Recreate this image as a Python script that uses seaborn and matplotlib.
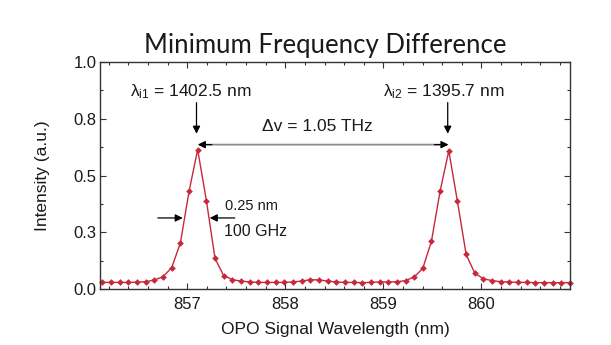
import matplotlib
matplotlib.use("Agg")
import matplotlib.pyplot as plt
import seaborn as sns
import pandas as pd
from matplotlib.ticker import MultipleLocator, FixedLocator

wavelength = [856.135, 856.223, 856.312, 856.400, 856.488, 856.577, 856.665, 856.753,
              856.841, 856.930, 857.018, 857.106, 857.195, 857.283, 857.371, 857.460,
              857.548, 857.636, 857.724, 857.813, 857.901, 857.989, 858.078, 858.166,
              858.254, 858.343, 858.431, 858.519, 858.607, 858.696, 858.784, 858.872,
              858.961, 859.049, 859.137, 859.226, 859.314, 859.402, 859.490, 859.579,
              859.667, 859.755, 859.844, 859.932, 860.020, 860.109, 860.197, 860.285,
              860.373, 860.462, 860.550, 860.638, 860.727, 860.815, 860.903]
intensity = [0.029, 0.029, 0.029, 0.029, 0.030, 0.032, 0.040, 0.054,
             0.094, 0.203, 0.430, 0.614, 0.389, 0.135, 0.059, 0.041,
             0.035, 0.031, 0.029, 0.029, 0.029, 0.029, 0.031, 0.035,
             0.041, 0.040, 0.035, 0.031, 0.029, 0.029, 0.028, 0.029,
             0.031, 0.031, 0.032, 0.037, 0.053, 0.091, 0.210, 0.433,
             0.609, 0.386, 0.152, 0.070, 0.045, 0.037, 0.032, 0.031,
             0.029, 0.029, 0.028, 0.028, 0.028, 0.028, 0.028]

x_ticks = [857, 858, 859, 860]
x_tick_labels = ["857", "858", "859", "860"]
y_ticks = [0.0, 0.25, 0.5, 0.75, 1.0]
y_tick_labels = ["0.0", "0.3", "0.5", "0.8", "1.0"]

title = "Minimum Frequency Difference"
x_label = "OPO Signal Wavelength (nm)"
y_label = "Intensity (a.u.)"

sns.set_theme(style="ticks")
plt.rcParams["font.family"] = ["Liberation Sans", "DejaVu Sans"]
plt.rcParams["mathtext.fontset"] = "custom"
plt.rcParams["mathtext.rm"] = "Liberation Sans"
plt.rcParams["mathtext.it"] = "Liberation Sans"

RED = "#c8283c"
INK = "#1a1a1a"

fig = plt.figure(figsize=(6.11, 3.45), dpi=100)
ax = fig.add_axes([100 / 611, 56 / 345, 470 / 611, 227 / 345])

df = pd.DataFrame({"wl": wavelength, "I": intensity})
sns.lineplot(data=df, x="wl", y="I", ax=ax, color=RED, lw=1.0, marker="D",
             markersize=3.4, markeredgewidth=0, clip_on=False)

ax.set_xlim(856.11, 860.903)
ax.set_ylim(0, 1.0)
ax.xaxis.set_major_locator(FixedLocator(x_ticks))
ax.set_xticklabels(x_tick_labels)
ax.xaxis.set_minor_locator(MultipleLocator(0.2))
ax.yaxis.set_major_locator(FixedLocator(y_ticks))
ax.set_yticklabels(y_tick_labels)
ax.yaxis.set_minor_locator(MultipleLocator(0.125))

for s in ax.spines.values():
    s.set_color("#333333")
    s.set_linewidth(1.0)
ax.tick_params(which="both", direction="in", top=True, right=True, colors="#333333",
               labelcolor=INK, width=0.8)
ax.tick_params(which="major", length=4, labelsize=12)
ax.tick_params(which="minor", length=2.5)
ax.tick_params(axis="x", pad=6)
ax.tick_params(axis="y", pad=2.5)

ax.set_xlabel(x_label, fontsize=12.5, color=INK, labelpad=7)
ax.set_ylabel(y_label, fontsize=12.5, color=INK, labelpad=17)

fig.text(325 / 611, (345 - 53) / 345, title, fontsize=18.5, family=["Lato", "DejaVu Sans"],
         ha="center", va="baseline", color=INK)

# peak labels
ax.text(857.04, 0.870, r"$\lambda_{\mathregular{i1}}$ = 1402.5 nm", fontsize=12.5,
        ha="center", va="center", color=INK)
ax.text(859.61, 0.870, r"$\lambda_{\mathregular{i2}}$ = 1395.7 nm", fontsize=12.5,
        ha="center", va="center", color=INK)
arrow = dict(arrowstyle="-|>", color="black", lw=0.9, mutation_scale=11, shrinkA=0, shrinkB=0)
ax.annotate("", xy=(857.094, 0.684), xytext=(857.094, 0.821), arrowprops=arrow)
ax.annotate("", xy=(859.656, 0.684), xytext=(859.656, 0.821), arrowprops=arrow)

# frequency difference arrow
ax.annotate("", xy=(857.13, 0.636), xytext=(859.64, 0.636),
            arrowprops=dict(arrowstyle="-", color="#8c8c8c", lw=1.3, shrinkA=0, shrinkB=0))
ax.annotate("", xy=(857.107, 0.636), xytext=(857.25, 0.636), arrowprops=arrow)
ax.annotate("", xy=(859.664, 0.636), xytext=(859.52, 0.636), arrowprops=arrow)
ax.text(858.33, 0.716, "\u0394v = 1.05 THz", fontsize=12.5, ha="center", va="center", color=INK)

# FWHM
ax.annotate("", xy=(856.954, 0.313), xytext=(856.70, 0.313), arrowprops=arrow)
ax.annotate("", xy=(857.229, 0.313), xytext=(857.484, 0.313), arrowprops=arrow)
ax.text(857.38, 0.367, "0.25 nm", fontsize=10.5, ha="left", va="center", color=INK)
ax.text(857.37, 0.254, "100 GHz", fontsize=11.5, ha="left", va="center", color=INK)

fig.savefig("out.png", dpi=100)
